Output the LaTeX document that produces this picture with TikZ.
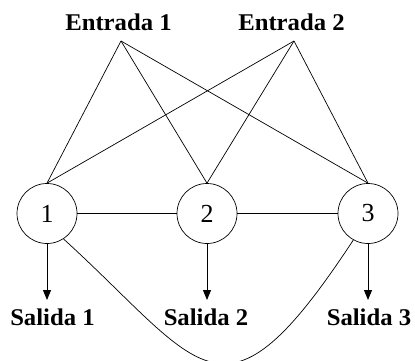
\documentclass[tikz,border=0pt]{standalone}
\usepackage{fontspec}
\setmainfont{Liberation Serif}
\newfontfamily\lblfont[FakeStretch=1.03]{Liberation Serif}
\usetikzlibrary{arrows.meta}
\begin{document}
\begin{tikzpicture}[x=1pt,y=-1pt,
  lbl/.style={font=\lblfont\fontsize{24}{28}\selectfont\bfseries, inner sep=0pt, anchor=base},
  stage/.style={circle, draw, line width=0.7pt, minimum size=60pt, inner sep=0pt, font=\fontsize{26}{30}\selectfont},
  wire/.style={line width=0.7pt},
  outarrow/.style={line width=0.9pt, -{Triangle[width=8pt,length=10pt]}}]
\useasboundingbox (0,0) rectangle (415,361);
\node[lbl] (t1) at (118.5,31) {Entrada 1};
\node[lbl] (t2) at (291.5,31) {Entrada 2};
\coordinate (e1) at (121,41);
\coordinate (e2) at (294,41);
\node[stage] (c1) at (47,213.5) {1};
\node[stage] (c2) at (207,213.5) {2};
\node[stage] (c3) at (368,213.5) {3};
\node[lbl] (s1) at (52.5,325) {Salida 1};
\node[lbl] (s2) at (206,325) {Salida 2};
\node[lbl] (s3) at (369,325) {Salida 3};
\coordinate (a1) at (47,300);
\coordinate (a2) at (207,300);
\coordinate (a3) at (368,300);
\foreach \c in {c1,c2,c3}{
  \draw[wire] (e1) -- (\c.north);
  \draw[wire] (e2) -- (\c.north);
}
\draw[wire] (c1.east) -- (c2.west);
\draw[wire] (c2.east) -- (c3.west);
\draw[outarrow] (c1.south) -- (a1);
\draw[outarrow] (c2.south) -- (a2);
\draw[outarrow] (c3.south) -- (a3);
\draw[wire] (c1.-57) .. controls (203,366) and (222,440) .. (c3.-119);
\end{tikzpicture}
\end{document}
